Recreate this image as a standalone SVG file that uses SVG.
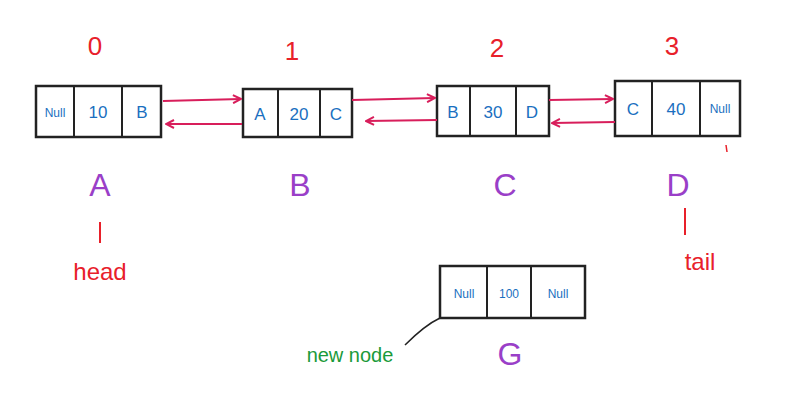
<svg xmlns="http://www.w3.org/2000/svg" width="803" height="415" viewBox="0 0 803 415">
<style>
.box{fill:#fff;stroke:#222;stroke-width:2.5}
.dv{stroke:#222;stroke-width:2}
.v{font-family:"Liberation Sans",sans-serif;font-size:17px;fill:#1a6fc0;text-anchor:middle}
.s{font-size:12px}
.idx{font-family:"Liberation Sans",sans-serif;font-size:26px;fill:#e8202a;text-anchor:middle}
.nm{font-family:"Liberation Sans",sans-serif;font-size:32px;fill:#9a3fc8;text-anchor:middle}
.red{font-family:"Liberation Sans",sans-serif;font-size:24px;fill:#e8202a;text-anchor:middle}
.ar{stroke:#d81e5b;stroke-width:2;fill:none;marker-end:url(#m)}
</style>
<defs><marker id="m" markerWidth="10" markerHeight="10" refX="9" refY="5" orient="auto" markerUnits="userSpaceOnUse"><path d="M1,1 L9,5 L1,9" fill="none" stroke="#d81e5b" stroke-width="2"/></marker></defs>
<g id="nodeA"><text class="idx" x="95" y="55">0</text><rect class="box" x="36" y="86" width="125" height="51"/><line class="dv" x1="74" y1="86" x2="74" y2="137"/><line class="dv" x1="122" y1="86" x2="122" y2="137"/>
<text class="v s" x="55" y="117">Null</text><text class="v" x="98" y="118">10</text><text class="v" x="142" y="118">B</text>
<text class="nm" x="100" y="196">A</text><line x1="100" y1="222" x2="100" y2="243" stroke="#e8202a" stroke-width="2"/><text class="red" x="100" y="280">head</text></g>
<g id="nodeB"><text class="idx" x="292" y="60">1</text><rect class="box" x="243" y="89" width="109" height="48"/><line class="dv" x1="278" y1="89" x2="278" y2="137"/><line class="dv" x1="320" y1="89" x2="320" y2="137"/>
<text class="v" x="260" y="120">A</text><text class="v" x="299" y="120">20</text><text class="v" x="336" y="120">C</text>
<text class="nm" x="300" y="196">B</text></g>
<g id="nodeC"><text class="idx" x="497" y="57">2</text><rect class="box" x="437" y="86" width="112" height="50"/><line class="dv" x1="470" y1="86" x2="470" y2="136"/><line class="dv" x1="516" y1="86" x2="516" y2="136"/>
<text class="v" x="453" y="118">B</text><text class="v" x="493" y="118">30</text><text class="v" x="532" y="118">D</text>
<text class="nm" x="505" y="196">C</text></g>
<g id="nodeD"><text class="idx" x="672" y="55">3</text><rect class="box" x="615" y="81" width="125" height="55"/><line class="dv" x1="652" y1="81" x2="652" y2="136"/><line class="dv" x1="700" y1="81" x2="700" y2="136"/>
<text class="v" x="633" y="115">C</text><text class="v" x="676" y="115">40</text><text class="v s" x="720" y="113">Null</text>
<line x1="726" y1="145" x2="727" y2="152" stroke="#e8202a" stroke-width="1.5"/>
<text class="nm" x="678" y="196">D</text><line x1="685" y1="208" x2="685" y2="235" stroke="#e8202a" stroke-width="2"/><text class="red" x="700" y="270">tail</text></g>
<g id="nodeG"><rect class="box" x="440" y="266" width="145" height="52"/><line class="dv" x1="487" y1="266" x2="487" y2="318"/><line class="dv" x1="531" y1="266" x2="531" y2="318"/>
<text class="v s" x="464" y="298">Null</text><text class="v s" x="509" y="298">100</text><text class="v s" x="558" y="298">Null</text>
<text class="nm" x="510" y="365">G</text>
<text x="350" y="362" font-family="Liberation Sans,sans-serif" font-size="20" fill="#1a9a3a" text-anchor="middle">new node</text>
<path d="M405 345 Q425 325 440 318" fill="none" stroke="#222" stroke-width="1.5"/></g>
<g id="connectors">
<path class="ar" d="M163 101 L241 99"/><path class="ar" d="M242 124 L166 124"/>
<path class="ar" d="M352 100 L435 98"/><path class="ar" d="M437 120 L366 121"/>
<path class="ar" d="M549 100 L613 99"/><path class="ar" d="M615 122 L552 123"/>
</g>
</svg>
